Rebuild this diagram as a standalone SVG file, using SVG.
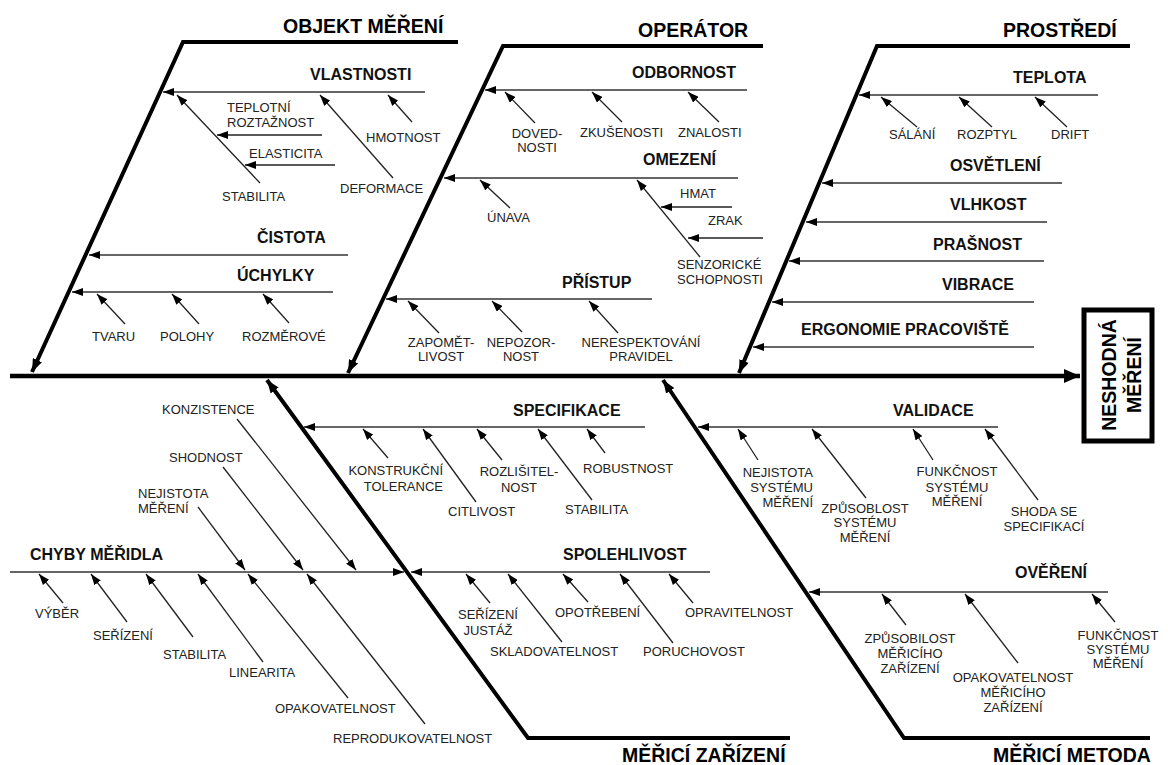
<svg xmlns="http://www.w3.org/2000/svg" width="1168" height="765" viewBox="0 0 1168 765">
<defs>
<style>
.t{font-family:"Liberation Sans",Arial,sans-serif;font-size:13px;fill:#222}
.b{font-family:"Liberation Sans",Arial,sans-serif;font-size:16px;font-weight:bold;fill:#111}
.h{font-family:"Liberation Sans",Arial,sans-serif;font-size:19.5px;font-weight:bold;fill:#000}
.m{text-anchor:middle}
.e{text-anchor:end}
.spine{stroke:#000;stroke-width:4.5;fill:none}
.main{stroke:#000;stroke-width:4;fill:none;stroke-linejoin:miter}
.sub{stroke:#333;stroke-width:1.6;fill:none}
.c{stroke:#222;stroke-width:1.3;fill:none}
</style>
<marker id="aBig" markerUnits="userSpaceOnUse" markerWidth="16" markerHeight="14" refX="16" refY="7" orient="auto"><path d="M0,0 L16,7 L0,14 z" fill="#000"/></marker>
<marker id="aMid" markerUnits="userSpaceOnUse" markerWidth="13" markerHeight="10" refX="13" refY="5" orient="auto"><path d="M0,0 L13,5 L0,10 z" fill="#000"/></marker>
<marker id="aSm" markerUnits="userSpaceOnUse" markerWidth="11" markerHeight="8" refX="11" refY="4" orient="auto"><path d="M0,0 L11,4 L0,8 z" fill="#000"/></marker>
</defs>
<rect width="1168" height="765" fill="#fff"/>

<g id="connectors">
<!-- spine -->
<line class="spine" x1="10" y1="376" x2="1080" y2="376" marker-end="url(#aBig)"/>
<!-- main branches -->
<polyline class="main" points="458,42 183,42 32,372" marker-end="url(#aMid)"/>
<polyline class="main" points="763,46 503,46 348,373" marker-end="url(#aMid)"/>
<polyline class="main" points="1130,46 877,46 739,373" marker-end="url(#aMid)"/>
<polyline class="main" points="790,738 528,738 267,380" marker-end="url(#aMid)"/>
<polyline class="main" points="1150,738 904,738 663,380" marker-end="url(#aMid)"/>
<!-- sub-branches -->
<line class="sub" x1="425" y1="92" x2="163" y2="92" marker-end="url(#aSm)"/>
<line class="sub" x1="348" y1="255" x2="89" y2="255" marker-end="url(#aSm)"/>
<line class="sub" x1="333" y1="292" x2="72" y2="292" marker-end="url(#aSm)"/>
<line class="sub" x1="747" y1="90" x2="485" y2="90" marker-end="url(#aSm)"/>
<line class="sub" x1="738" y1="178" x2="444" y2="178" marker-end="url(#aSm)"/>
<line class="sub" x1="652" y1="299" x2="386" y2="299" marker-end="url(#aSm)"/>
<line class="sub" x1="1098" y1="95" x2="859" y2="95" marker-end="url(#aSm)"/>
<line class="sub" x1="1062" y1="183" x2="822" y2="183" marker-end="url(#aSm)"/>
<line class="sub" x1="1047" y1="222" x2="806" y2="222" marker-end="url(#aSm)"/>
<line class="sub" x1="1044" y1="261" x2="789" y2="261" marker-end="url(#aSm)"/>
<line class="sub" x1="1034" y1="302" x2="772" y2="302" marker-end="url(#aSm)"/>
<line class="sub" x1="1034" y1="347" x2="753" y2="347" marker-end="url(#aSm)"/>
<line class="sub" x1="645" y1="427" x2="304" y2="427" marker-end="url(#aSm)"/>
<line class="sub" x1="710" y1="572" x2="411" y2="572" marker-end="url(#aSm)"/>
<line class="sub" x1="10" y1="572" x2="404" y2="572" marker-end="url(#aSm)"/>
<line class="sub" x1="998" y1="427" x2="698" y2="427" marker-end="url(#aSm)"/>
<line class="sub" x1="1108" y1="592" x2="809" y2="592" marker-end="url(#aSm)"/>
<!-- causes: objekt -->
<line class="c" x1="412" y1="122" x2="388" y2="95" marker-end="url(#aSm)"/>
<line class="c" x1="393" y1="178" x2="320" y2="95" marker-end="url(#aSm)"/>
<line class="c" x1="260" y1="183" x2="177" y2="95" marker-end="url(#aSm)"/>
<line class="c" x1="322" y1="135" x2="217" y2="135" marker-end="url(#aSm)"/>
<line class="c" x1="335" y1="165" x2="245" y2="165" marker-end="url(#aSm)"/>
<line class="c" x1="125" y1="324" x2="97" y2="294" marker-end="url(#aSm)"/>
<line class="c" x1="199" y1="324" x2="172" y2="294" marker-end="url(#aSm)"/>
<line class="c" x1="289" y1="323" x2="263" y2="294" marker-end="url(#aSm)"/>
<!-- causes: operator -->
<line class="c" x1="535" y1="123" x2="505" y2="92" marker-end="url(#aSm)"/>
<line class="c" x1="622" y1="122" x2="592" y2="92" marker-end="url(#aSm)"/>
<line class="c" x1="719" y1="122" x2="688" y2="92" marker-end="url(#aSm)"/>
<line class="c" x1="510" y1="208" x2="480" y2="180" marker-end="url(#aSm)"/>
<line class="c" x1="700" y1="257" x2="637" y2="180" marker-end="url(#aSm)"/>
<line class="c" x1="732" y1="207" x2="661" y2="207" marker-end="url(#aSm)"/>
<line class="c" x1="763" y1="238" x2="688" y2="238" marker-end="url(#aSm)"/>
<line class="c" x1="439" y1="333" x2="408" y2="301" marker-end="url(#aSm)"/>
<line class="c" x1="522" y1="332" x2="492" y2="301" marker-end="url(#aSm)"/>
<line class="c" x1="618" y1="333" x2="589" y2="301" marker-end="url(#aSm)"/>
<!-- causes: prostredi -->
<line class="c" x1="917" y1="127" x2="881" y2="97" marker-end="url(#aSm)"/>
<line class="c" x1="992" y1="127" x2="959" y2="97" marker-end="url(#aSm)"/>
<line class="c" x1="1067" y1="127" x2="1035" y2="97" marker-end="url(#aSm)"/>
<!-- causes: merici zarizeni -->
<line class="c" x1="388" y1="458" x2="363" y2="429" marker-end="url(#aSm)"/>
<line class="c" x1="476" y1="502" x2="423" y2="429" marker-end="url(#aSm)"/>
<line class="c" x1="502" y1="460" x2="477" y2="429" marker-end="url(#aSm)"/>
<line class="c" x1="592" y1="500" x2="538" y2="429" marker-end="url(#aSm)"/>
<line class="c" x1="605" y1="453" x2="587" y2="429" marker-end="url(#aSm)"/>
<line class="c" x1="490" y1="603" x2="466" y2="574" marker-end="url(#aSm)"/>
<line class="c" x1="562" y1="642" x2="508" y2="574" marker-end="url(#aSm)"/>
<line class="c" x1="588" y1="602" x2="563" y2="574" marker-end="url(#aSm)"/>
<line class="c" x1="673" y1="643" x2="620" y2="574" marker-end="url(#aSm)"/>
<line class="c" x1="693" y1="603" x2="669" y2="574" marker-end="url(#aSm)"/>
<!-- causes: chyby meridla -->
<line class="c" x1="63" y1="603" x2="39" y2="574" marker-end="url(#aSm)"/>
<line class="c" x1="127" y1="622" x2="91" y2="574" marker-end="url(#aSm)"/>
<line class="c" x1="193" y1="637" x2="146" y2="574" marker-end="url(#aSm)"/>
<line class="c" x1="263" y1="662" x2="198" y2="574" marker-end="url(#aSm)"/>
<line class="c" x1="348" y1="698" x2="248" y2="574" marker-end="url(#aSm)"/>
<line class="c" x1="425" y1="724" x2="307" y2="574" marker-end="url(#aSm)"/>
<line class="c" x1="198" y1="507" x2="245" y2="570" marker-end="url(#aSm)"/>
<line class="c" x1="223" y1="467" x2="303" y2="570" marker-end="url(#aSm)"/>
<line class="c" x1="237" y1="419" x2="356" y2="570" marker-end="url(#aSm)"/>
<!-- causes: merici metoda -->
<line class="c" x1="758" y1="460" x2="738" y2="429" marker-end="url(#aSm)"/>
<line class="c" x1="866" y1="498" x2="812" y2="429" marker-end="url(#aSm)"/>
<line class="c" x1="933" y1="460" x2="913" y2="429" marker-end="url(#aSm)"/>
<line class="c" x1="1038" y1="500" x2="985" y2="429" marker-end="url(#aSm)"/>
<line class="c" x1="906" y1="625" x2="882" y2="594" marker-end="url(#aSm)"/>
<line class="c" x1="1018" y1="663" x2="965" y2="594" marker-end="url(#aSm)"/>
<line class="c" x1="1115" y1="622" x2="1092" y2="594" marker-end="url(#aSm)"/>
</g>

<g id="effect">
<rect x="1084" y="310" width="68" height="131" fill="#fff" stroke="#000" stroke-width="5"/>
<text class="h m" font-size="19" transform="translate(1116,375) rotate(-90)">NESHODNÁ</text>
<text class="h m" font-size="19" transform="translate(1141,375) rotate(-90)">MĚŘENÍ</text>
</g>

<g id="objekt-mereni">
<text class="h" x="283" y="33">OBJEKT MĚŘENÍ</text>
<g id="vlastnosti"><text class="b" x="310" y="80">VLASTNOSTI</text>
<text class="t" x="366" y="142">HMOTNOST</text>
<text class="t" x="340" y="193">DEFORMACE</text>
<text class="t" x="222" y="201">STABILITA</text>
<text class="t" x="227" y="112">TEPLOTNÍ</text>
<text class="t" x="227" y="127">ROZTAŽNOST</text>
<text class="t" x="249" y="158">ELASTICITA</text></g>
<g id="cistota"><text class="b" x="257" y="243">ČISTOTA</text></g>
<g id="uchylky"><text class="b" x="237" y="281">ÚCHYLKY</text>
<text class="t" x="92" y="341">TVARU</text>
<text class="t" x="160" y="341">POLOHY</text>
<text class="t" x="242" y="341">ROZMĚROVÉ</text></g>
</g>

<g id="operator">
<text class="h" x="638" y="37">OPERÁTOR</text>
<g id="odbornost"><text class="b" x="632" y="78">ODBORNOST</text>
<text class="t m" x="537" y="138">DOVED-</text>
<text class="t m" x="537" y="152">NOSTI</text>
<text class="t" x="580" y="137">ZKUŠENOSTI</text>
<text class="t" x="678" y="137">ZNALOSTI</text></g>
<g id="omezeni"><text class="b" x="643" y="165">OMEZENÍ</text>
<text class="t" x="487" y="222">ÚNAVA</text>
<text class="t" x="680" y="198">HMAT</text>
<text class="t" x="708" y="225">ZRAK</text>
<text class="t" x="677" y="269">SENZORICKÉ</text>
<text class="t" x="677" y="284">SCHOPNOSTI</text></g>
<g id="pristup"><text class="b" x="562" y="288">PŘÍSTUP</text>
<text class="t m" x="441" y="347">ZAPOMĚT-</text>
<text class="t m" x="441" y="361">LIVOST</text>
<text class="t m" x="521" y="347">NEPOZOR-</text>
<text class="t m" x="521" y="361">NOST</text>
<text class="t m" x="641" y="347">NERESPEKTOVÁNÍ</text>
<text class="t m" x="641" y="361">PRAVIDEL</text></g>
</g>

<g id="prostredi">
<text class="h" x="1003" y="37">PROSTŘEDÍ</text>
<g id="teplota"><text class="b" x="1013" y="83">TEPLOTA</text>
<text class="t" x="889" y="139">SÁLÁNÍ</text>
<text class="t" x="957" y="139">ROZPTYL</text>
<text class="t" x="1051" y="139">DRIFT</text></g>
<g id="osvetleni"><text class="b" x="950" y="171">OSVĚTLENÍ</text></g>
<g id="vlhkost"><text class="b" x="950" y="210">VLHKOST</text></g>
<g id="prasnost"><text class="b" x="933" y="250">PRAŠNOST</text></g>
<g id="vibrace"><text class="b" x="942" y="290">VIBRACE</text></g>
<g id="ergonomie"><text class="b" x="801" y="335">ERGONOMIE PRACOVIŠTĚ</text></g>
</g>

<g id="merici-zarizeni">
<text class="h" x="622" y="762">MĚŘICÍ ZAŘÍZENÍ</text>
<g id="specifikace"><text class="b" x="513" y="416">SPECIFIKACE</text>
<text class="t e" x="443" y="475">KONSTRUKČNÍ</text>
<text class="t e" x="443" y="491">TOLERANCE</text>
<text class="t" x="448" y="516">CITLIVOST</text>
<text class="t m" x="519" y="476">ROZLIŠITEL-</text>
<text class="t m" x="519" y="492">NOST</text>
<text class="t" x="565" y="514">STABILITA</text>
<text class="t" x="583" y="473">ROBUSTNOST</text></g>
<g id="spolehlivost"><text class="b" x="563" y="560">SPOLEHLIVOST</text>
<text class="t m" x="488" y="619">SEŘÍZENÍ</text>
<text class="t m" x="488" y="635">JUSTÁŽ</text>
<text class="t" x="490" y="656">SKLADOVATELNOST</text>
<text class="t" x="555" y="617">OPOTŘEBENÍ</text>
<text class="t" x="643" y="656">PORUCHOVOST</text>
<text class="t" x="685" y="617">OPRAVITELNOST</text></g>
<g id="chyby-meridla"><text class="b" x="30" y="560">CHYBY MĚŘIDLA</text>
<text class="t" x="162" y="414">KONZISTENCE</text>
<text class="t" x="169" y="462">SHODNOST</text>
<text class="t" x="138" y="498">NEJISTOTA</text>
<text class="t" x="138" y="513">MĚŘENÍ</text>
<text class="t" x="35" y="618">VÝBĚR</text>
<text class="t" x="93" y="640">SEŘÍZENÍ</text>
<text class="t" x="163" y="659">STABILITA</text>
<text class="t" x="229" y="677">LINEARITA</text>
<text class="t" x="275" y="713">OPAKOVATELNOST</text>
<text class="t" x="333" y="743">REPRODUKOVATELNOST</text></g>
</g>

<g id="merici-metoda">
<text class="h" x="993" y="762">MĚŘICÍ METODA</text>
<g id="validace"><text class="b" x="893" y="416">VALIDACE</text>
<text class="t e" x="813" y="477">NEJISTOTA</text>
<text class="t e" x="813" y="492">SYSTÉMU</text>
<text class="t e" x="813" y="507">MĚŘENÍ</text>
<text class="t m" x="865" y="513">ZPŮSOBLOST</text>
<text class="t m" x="865" y="527">SYSTÉMU</text>
<text class="t m" x="865" y="542">MĚŘENÍ</text>
<text class="t m" x="957" y="476">FUNKČNOST</text>
<text class="t m" x="957" y="492">SYSTÉMU</text>
<text class="t m" x="957" y="506">MĚŘENÍ</text>
<text class="t m" x="1044" y="516">SHODA SE</text>
<text class="t m" x="1044" y="531">SPECIFIKACÍ</text></g>
<g id="overeni"><text class="b" x="1015" y="578">OVĚŘENÍ</text>
<text class="t m" x="910" y="643">ZPŮSOBILOST</text>
<text class="t m" x="910" y="658">MĚŘICÍHO</text>
<text class="t m" x="910" y="673">ZAŘÍZENÍ</text>
<text class="t m" x="1013" y="682">OPAKOVATELNOST</text>
<text class="t m" x="1013" y="697">MĚŘICÍHO</text>
<text class="t m" x="1013" y="712">ZAŘÍZENÍ</text>
<text class="t m" x="1118" y="640">FUNKČNOST</text>
<text class="t m" x="1118" y="654">SYSTÉMU</text>
<text class="t m" x="1118" y="668">MĚŘENÍ</text></g>
</g>
</svg>
